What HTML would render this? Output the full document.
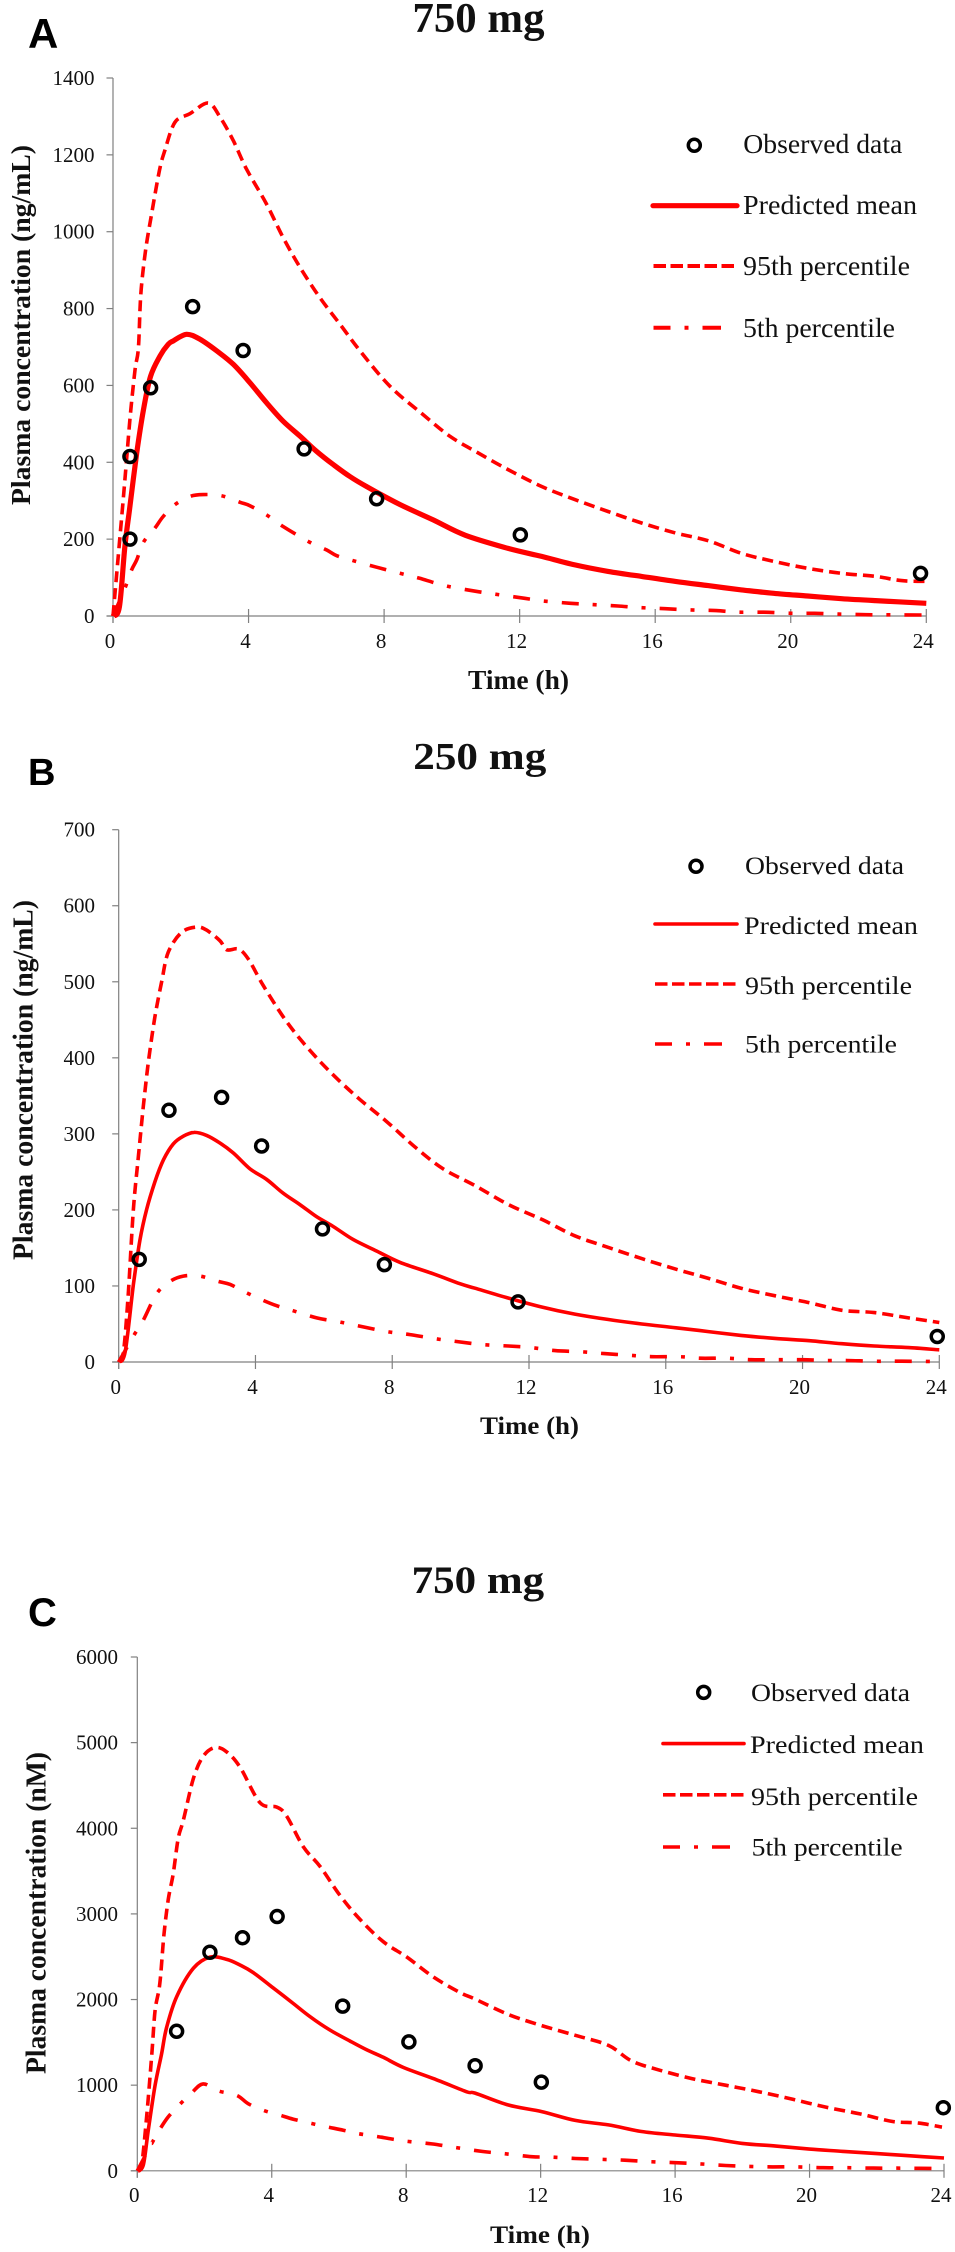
<!DOCTYPE html>
<html lang="en">
<head>
<meta charset="utf-8">
<title>Plasma concentration profiles</title>
<style>
html,body{margin:0;padding:0;background:#fff;}
svg{display:block;filter:blur(0.35px);}
text{font-family:"Liberation Serif",serif;fill:#111;}
.panel-letter{font-family:"Liberation Sans",sans-serif;font-weight:700;fill:#000;}
.bold{font-weight:700;}
</style>
</head>
<body>
<svg id="figure" xmlns="http://www.w3.org/2000/svg" width="955" height="2252" viewBox="0 0 955 2252">
  <rect width="955" height="2252" fill="#fff"/>
  <g id="panel-a">
    <text class="panel-letter" x="28" y="48" font-size="42">A</text>
    <text class="bold" x="412.5" y="32" font-size="42" textLength="132" lengthAdjust="spacingAndGlyphs">750 mg</text>
    <text class="bold" transform="translate(30,505) rotate(-90)" font-size="27.5" textLength="360" lengthAdjust="spacingAndGlyphs">Plasma concentration (ng/mL)</text>
    <text class="bold" x="468" y="689" font-size="27" textLength="101" lengthAdjust="spacingAndGlyphs">Time (h)</text>
    <g>
      <circle cx="694.3" cy="145.3" r="6" fill="#fff" stroke="#000" stroke-width="3.5"/>
      <text x="743.3" y="153" font-size="27" textLength="159" lengthAdjust="spacingAndGlyphs">Observed data</text>
      <line x1="653" y1="205.7" x2="737" y2="205.7" stroke="#f00" stroke-width="5.2" stroke-linecap="round"/>
      <text x="743" y="214" font-size="27" textLength="174" lengthAdjust="spacingAndGlyphs">Predicted mean</text>
      <line x1="653.5" y1="266" x2="735" y2="266" stroke="#f00" stroke-width="4" stroke-dasharray="12.5 4.5"/>
      <text x="743" y="275" font-size="27" textLength="167" lengthAdjust="spacingAndGlyphs">95th percentile</text>
      <line x1="653.5" y1="327.7" x2="721" y2="327.7" stroke="#f00" stroke-width="4" stroke-dasharray="17 14 4 14 18 0"/>
      <text x="743" y="337" font-size="27" textLength="152" lengthAdjust="spacingAndGlyphs">5th percentile</text>
    </g>
  </g>
  <g id="panel-b">
    <text class="panel-letter" x="28" y="785" font-size="38">B</text>
    <text class="bold" x="413.3" y="769" font-size="38" textLength="133" lengthAdjust="spacingAndGlyphs">250 mg</text>
    <text class="bold" transform="translate(32.5,1260) rotate(-90)" font-size="28" textLength="360" lengthAdjust="spacingAndGlyphs">Plasma concentration (ng/mL)</text>
    <text class="bold" x="480" y="1434" font-size="25" textLength="99" lengthAdjust="spacingAndGlyphs">Time (h)</text>
    <g>
      <circle cx="696" cy="866.3" r="6" fill="#fff" stroke="#000" stroke-width="3.5"/>
      <text x="745" y="874" font-size="25" textLength="159" lengthAdjust="spacingAndGlyphs">Observed data</text>
      <line x1="655" y1="924" x2="737" y2="924" stroke="#f00" stroke-width="3.6" stroke-linecap="round"/>
      <text x="744" y="934" font-size="25" textLength="174" lengthAdjust="spacingAndGlyphs">Predicted mean</text>
      <line x1="655" y1="984" x2="737" y2="984" stroke="#f00" stroke-width="3.6" stroke-dasharray="12.5 4.5"/>
      <text x="745" y="994" font-size="25" textLength="167" lengthAdjust="spacingAndGlyphs">95th percentile</text>
      <line x1="655" y1="1044" x2="722" y2="1044" stroke="#f00" stroke-width="3.6" stroke-dasharray="17 14 4 14 18 0"/>
      <text x="745" y="1052.5" font-size="25" textLength="152" lengthAdjust="spacingAndGlyphs">5th percentile</text>
    </g>
  </g>
  <g id="panel-c">
    <text class="panel-letter" x="28" y="1626" font-size="40">C</text>
    <text class="bold" x="411.7" y="1593" font-size="39" textLength="132.5" lengthAdjust="spacingAndGlyphs">750 mg</text>
    <text class="bold" transform="translate(45.7,2074) rotate(-90)" font-size="28" textLength="322" lengthAdjust="spacingAndGlyphs">Plasma concentration (nM)</text>
    <text class="bold" x="490" y="2243" font-size="25" textLength="100" lengthAdjust="spacingAndGlyphs">Time (h)</text>
    <g>
      <circle cx="703.7" cy="1692.4" r="6" fill="#fff" stroke="#000" stroke-width="3.5"/>
      <text x="751" y="1701" font-size="25" textLength="159" lengthAdjust="spacingAndGlyphs">Observed data</text>
      <line x1="663" y1="1743.6" x2="744" y2="1743.6" stroke="#f00" stroke-width="3.6" stroke-linecap="round"/>
      <text x="750" y="1753" font-size="25" textLength="174" lengthAdjust="spacingAndGlyphs">Predicted mean</text>
      <line x1="663" y1="1794.8" x2="744" y2="1794.8" stroke="#f00" stroke-width="3.6" stroke-dasharray="12.5 4.5"/>
      <text x="751" y="1805" font-size="25" textLength="167" lengthAdjust="spacingAndGlyphs">95th percentile</text>
      <line x1="663" y1="1847" x2="730" y2="1847" stroke="#f00" stroke-width="3.6" stroke-dasharray="17 14 4 14 18 0"/>
      <text x="751.7" y="1855.7" font-size="25" textLength="151" lengthAdjust="spacingAndGlyphs">5th percentile</text>
    </g>
  </g>
</svg>
<script>
// Shared tick labels
const xTicks = [0, 4, 8, 12, 16, 20, 24];
const aYTicks = [0, 200, 400, 600, 800, 1000, 1200, 1400];
const bYTicks = [0, 100, 200, 300, 400, 500, 600, 700];
const cYTicks = [0, 1000, 2000, 3000, 4000, 5000, 6000];

// Panel A: 750 mg (ng/mL)
const aP95Time = [0,0.3,0.5,0.65,0.75,0.82,0.96,1.14,1.37,1.53,1.83,2.27,2.81,3.16,3.55,3.94,4.53,5.02,5.52,6.1,6.7,7.29,8.17,9.15,9.94,10.68,11.66,12.65,13.63,14.61,15.6,16.6,17.56,18.55,19.5,20.5,21.5,22.5,23.27,24];
const aP95Conc = [0,302,511,640,698,837,950,1046,1159,1211,1285,1307,1335,1298,1237,1163,1072,985,907,829,759,690,598,524,468,429,381,337,303,272,242,216,196,163,142,124,111,103,92,90];
const aMeanTime = [0,0.19,0.35,0.5,0.7,0.9,1.11,1.39,1.63,1.78,2.17,2.57,3.06,3.55,4.04,4.53,5.02,5.52,6,6.5,6.99,7.48,8.47,9.45,10.4,11.66,12.65,13.63,14.61,15.6,16.6,17.56,18.55,19.5,20.5,21.5,22.5,24];
const aMeanConc = [0,24,181,285,424,537,624,677,707,716,733,720,690,655,607,555,507,468,429,394,363,337,290,250,210,176,155,133,116,103,90,79,68,59,52,45,40,33];
const aP5Time = [0,0.35,0.55,0.7,0.9,1.24,1.48,1.83,2.27,2.66,3.2,3.75,4.04,4.53,5.02,5.76,6.3,6.6,7.09,7.78,8.47,9.05,9.84,10.8,11.27,12.15,12.7,13.5,14.1,14.9,15.5,16.3,17,17.8,18.45,19.2,20,20.7,21.4,22.2,22.8,24];
const aP5Conc = [0,72,120,146,192,229,259,290,311,316,313,296,287,263,233,194,172,157,144,127,111,98,78,63,57,46,39,33,30,26,22,19,16,14,10,10,7,7,5,3.5,3,2.6];
const aObsTime = [0.5,0.5,1.11,2.35,3.84,5.64,7.78,12.02,23.83];
const aObsConc = [200,415,594,805,691,435,305,211,111];

// Panel B: 250 mg (ng/mL)
const bP95Time = [0,0.14,0.28,0.43,0.58,0.72,0.87,1.06,1.26,1.45,1.84,2.28,2.57,2.96,3.16,3.5,3.79,4.23,4.81,5.3,5.89,6.47,7.06,7.84,8.71,9.49,10.42,11.4,12.4,13.34,14.3,15.3,16.3,17.25,18.2,19.2,20.2,21.15,22.1,23.1,24];
const bP95Conc = [0,14,90,201,272,336,395,454,501,539,565,572,568,554,542,543,530,495,454,425,395,369,345,316,281,254,232,207,187,166,151,136,122,110,97,87,78,68,65,58,52];
const bMeanTime = [0,0.19,0.43,0.62,0.82,1.06,1.31,1.6,1.89,2.2,2.57,2.96,3.35,3.84,4.33,4.81,5.3,5.79,6.28,6.86,7.54,8.23,9.2,9.98,10.42,11.4,12.4,13.34,14.3,15.3,16.3,17.25,18.2,19.2,20.2,21.15,22.1,23.1,24];
const bMeanConc = [0,13.5,102,160,201,237,266,287,297,302,298,288,275,254,240,222,207,191,178,161,146,131,116,103,97,84,72,63,56,50,45,40,35,31,28,24,21,19,16];
const bP5Time = [0,0.43,0.72,1.11,1.5,1.89,2.38,2.91,3.26,3.69,4.23,4.62,5.06,5.79,6.42,6.96,7.84,8.52,9.2,9.88,10.6,11.4,12.07,12.76,13.5,14.2,14.9,15.6,16.4,17,17.8,18.5,19.2,20,20.7,21.3,22.1,22.9,24];
const bP5Conc = [0,34,55,90,106,113,113,106,102,92,81,74,68,58,53,48,40,36,31,27,23,21,19,15,13.5,11,9,7,7,5,5,3,3,3,2,2,1,1,0.6];
const bObsTime = [0.6,1.47,3.01,4.18,5.96,7.77,11.68,23.94];
const bObsConc = [135,331,348,284,175,128,79,33.5];

// Panel C: 750 mg (nM)
const cP95Time = [0,0.13,0.28,0.43,0.53,0.67,0.79,0.92,1.07,1.22,1.37,1.67,1.96,2.31,2.66,3.06,3.65,4.15,4.44,4.94,5.44,6.03,6.63,7.32,8.02,8.81,9.6,10.05,11.04,12.03,13.03,14.02,14.7,15.5,16.5,17.5,18.5,19.5,20.5,21.5,22.45,23.25,23.94];
const cP95Conc = [0,72,640,1360,1876,2186,2753,3165,3474,3887,4093,4582,4840,4943,4892,4711,4299,4247,4144,3784,3552,3216,2933,2675,2495,2263,2082,2005,1825,1696,1582,1464,1284,1180,1077,1000,923,835,742,665,577,557,510];
const cMeanTime = [0,0.18,0.33,0.53,0.72,0.87,1.17,1.67,2.16,2.66,3.06,3.45,4.05,4.64,5.14,5.73,6.33,6.83,7.32,7.92,8.81,9.8,10.05,11.04,12.03,13.03,14.02,15,16,17,18,19,20,21,22,23,24];
const cMeanConc = [0,72,485,1000,1361,1670,2031,2366,2495,2469,2402,2314,2134,1954,1799,1644,1515,1412,1325,1206,1077,923,907,768,691,588,536,459,418,381,320,289,253,227,201,175,149];
const cP5Time = [0,0.43,0.67,0.92,1.27,1.62,1.96,2.41,2.96,3.3,3.75,4.25,4.64,5.19,5.68,6.13,6.58,7.12,7.57,8.02,8.76,9.45,10.25,10.9,11.73,12.33,13.03,13.77,14.5,15.2,16.1,16.7,17.5,18.1,18.9,19.6,20.4,21.1,21.9,22.55,24];
const cP5Conc = [0,320,485,629,778,912,1015,933,881,784,706,649,603,552,510,474,433,402,371,345,314,273,227,201,165,160,144,134,124,108,93,82,62,52,46,46,36,36,31,31,26];
const cObsTime = [1.17,2.16,3.13,4.16,6.11,8.08,10.05,12.02,23.98];
const cObsConc = [1629,2552,2722,2969,1923,1505,1227,1036,737];

const SVG_NS = 'http://www.w3.org/2000/svg';

function make(parent, tag, attrs, text) {
  const node = document.createElementNS(SVG_NS, tag);
  Object.keys(attrs).forEach(function (k) { node.setAttribute(k, attrs[k]); });
  if (text !== undefined) node.textContent = text;
  parent.appendChild(node);
  return node;
}

function linearScale(d0, d1, r0, r1) {
  return function (v) { return r0 + (v - d0) * (r1 - r0) / (d1 - d0); };
}

// Catmull-Rom smoothing so the series read as smooth Excel-style curves
function smoothPath(px, py) {
  let d = 'M' + px[0].toFixed(1) + ' ' + py[0].toFixed(1);
  for (let i = 0; i < px.length - 1; i++) {
    const a = Math.max(i - 1, 0);
    const c = Math.min(i + 2, px.length - 1);
    const c1x = px[i] + (px[i + 1] - px[a]) / 6;
    const c1y = py[i] + (py[i + 1] - py[a]) / 6;
    const c2x = px[i + 1] - (px[c] - px[i]) / 6;
    const c2y = py[i + 1] - (py[c] - py[i]) / 6;
    d += 'C' + c1x.toFixed(1) + ' ' + c1y.toFixed(1) + ' ' + c2x.toFixed(1) + ' ' + c2y.toFixed(1) + ' ' + px[i + 1].toFixed(1) + ' ' + py[i + 1].toFixed(1);
  }
  return d;
}

function drawCurve(g, xs, ys, times, concs, style, name) {
  const px = times.map(function (t) { return xs(t); });
  const py = concs.map(function (v) { return ys(v); });
  const line = make(g, 'path', {
    d: smoothPath(px, py), fill: 'none', stroke: '#f00',
    'stroke-width': style.width,
    'stroke-dasharray': style.dash,
    'stroke-linejoin': 'round'
  });
  
  
}

function drawAxes(g, xs, ys, yTickValues, layout) {
  const axisColor = '#808080';
  const yMax = yTickValues[yTickValues.length - 1];
  const yAxis = make(g, 'line', { x1: xs(0), x2: xs(0), y1: ys(yMax), y2: ys(0) + 7, stroke: axisColor, 'stroke-width': 1.2 });
  
  
  const xAxis = make(g, 'line', { x1: xs(0) - 6.5, x2: xs(24), y1: ys(0), y2: ys(0), stroke: axisColor, 'stroke-width': 1.2 });
  
  

  yTickValues.forEach(function (v) {
    const tick = make(g, 'line', { x1: xs(0) - 6.5, x2: xs(0), y1: ys(v), y2: ys(v), stroke: axisColor, 'stroke-width': 1.2 });
    
    
    const label = make(g, 'text', { x: layout.yLabelX, y: ys(v) + 7, 'font-size': 21, 'text-anchor': 'end' }, String(v));
    
    
  });

  xTicks.forEach(function (t) {
    const tick = make(g, 'line', { x1: xs(t), x2: xs(t), y1: ys(0) - 7, y2: ys(0) + 7, stroke: axisColor, 'stroke-width': 1.2 });
    
    
    const label = make(g, 'text', { x: xs(t) - 3, y: layout.xLabelY, 'font-size': 21, 'text-anchor': 'middle' }, String(t));
    
    
  });
}

function drawObserved(g, xs, ys, times, concs) {
  times.forEach(function (t, i) {
    const pt = make(g, 'circle', { cx: xs(t), cy: ys(concs[i]), r: 6, fill: 'none', stroke: '#000', 'stroke-width': 3.5 });
    
    
  });
}

const dashP95 = '11 6';
const dashP5 = '17 14 4 14';

// Panel A
(function () {
  const g = document.getElementById('panel-a');
  const xs = linearScale(0, 24, 113, 926.3);
  const ys = linearScale(0, 1400, 616, 78);
  drawAxes(g, xs, ys, aYTicks, { yLabelX: 94.5, xLabelY: 648 });
  drawCurve(g, xs, ys, aP5Time, aP5Conc, { width: 3.6, dash: dashP5 }, 'series-5th-percentile');
  drawCurve(g, xs, ys, aP95Time, aP95Conc, { width: 3.6, dash: dashP95 }, 'series-95th-percentile');
  drawCurve(g, xs, ys, aMeanTime, aMeanConc, { width: 5.2, dash: 'none' }, 'series-predicted-mean');
  drawObserved(g, xs, ys, aObsTime, aObsConc);
})();

// Panel B
(function () {
  const g = document.getElementById('panel-b');
  const xs = linearScale(0, 24, 118.7, 939.3);
  const ys = linearScale(0, 700, 1362, 829.7);
  drawAxes(g, xs, ys, bYTicks, { yLabelX: 95, xLabelY: 1394 });
  drawCurve(g, xs, ys, bP5Time, bP5Conc, { width: 3.6, dash: dashP5 }, 'series-5th-percentile');
  drawCurve(g, xs, ys, bP95Time, bP95Conc, { width: 3.6, dash: dashP95 }, 'series-95th-percentile');
  drawCurve(g, xs, ys, bMeanTime, bMeanConc, { width: 3.6, dash: 'none' }, 'series-predicted-mean');
  drawObserved(g, xs, ys, bObsTime, bObsConc);
})();

// Panel C
(function () {
  const g = document.getElementById('panel-c');
  const xs = linearScale(0, 24, 137.3, 944);
  const ys = linearScale(0, 6000, 2170.8, 1657);
  drawAxes(g, xs, ys, cYTicks, { yLabelX: 118, xLabelY: 2202 });
  drawCurve(g, xs, ys, cP5Time, cP5Conc, { width: 3.6, dash: dashP5 }, 'series-5th-percentile');
  drawCurve(g, xs, ys, cP95Time, cP95Conc, { width: 3.6, dash: dashP95 }, 'series-95th-percentile');
  drawCurve(g, xs, ys, cMeanTime, cMeanConc, { width: 3.6, dash: 'none' }, 'series-predicted-mean');
  drawObserved(g, xs, ys, cObsTime, cObsConc);
})();
</script>
</body>
</html>
